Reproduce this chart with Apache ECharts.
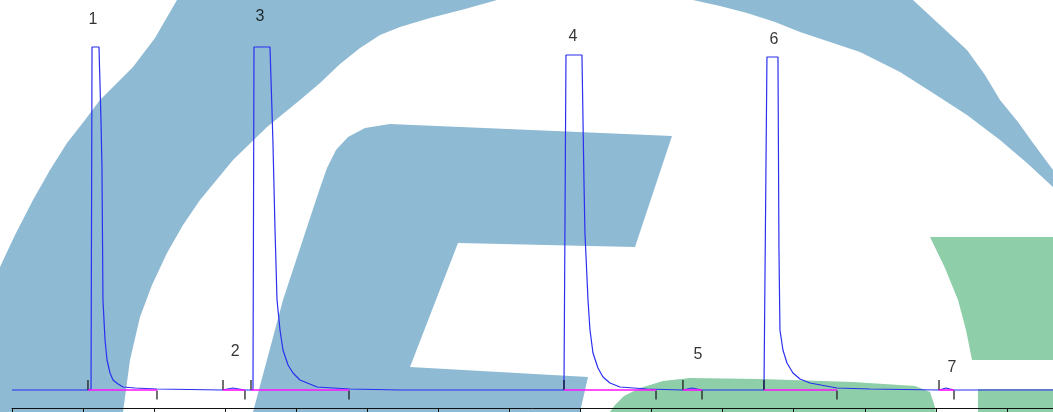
<!DOCTYPE html>
<html>
<head>
<meta charset="utf-8">
<script src="https://cdn.jsdelivr.net/npm/echarts@6/dist/echarts.min.js"></script>
<style>
html,body{margin:0;padding:0;background:#fff;}
#chart{width:1053px;height:412px;}
</style>
</head>
<body>
<div id="chart"></div>
<script>
// Retention time (min) and detector response of the chromatogram trace
var traceTime = [0, 1.069, 1.112, 1.126, 1.224, 1.252, 1.266, 1.280, 1.309, 1.337, 1.379, 1.421, 1.492, 1.562, 1.731, 2.040,
  2.955, 3.110, 3.278, 3.391, 3.405, 3.630, 3.658, 3.672, 3.701, 3.729, 3.771, 3.813, 3.884, 3.954, 4.052, 4.292, 4.756, 5.459,
  7.767, 7.795, 8.020, 8.048, 8.062, 8.105, 8.133, 8.175, 8.245, 8.316, 8.414, 8.555, 8.935,
  9.441, 9.568, 9.709,
  10.581, 10.623, 10.778, 10.792, 10.806, 10.848, 10.905, 10.989, 11.088, 11.228, 11.608, 12.073,
  13.044, 13.142, 13.255, 14.648];
var traceSignal = [0, 0, 1, 343, 343, 270, 223, 90, 50, 30, 17, 10, 6, 3, 2, 1,
  0, 2, 0, 0, 343, 343, 280, 247, 160, 90, 60, 40, 25, 17, 10, 3, 1, 0,
  0, 335, 335, 210, 157, 90, 60, 37, 22, 13, 7, 3, 1,
  0, 2, 0,
  0, 333, 333, 140, 60, 40, 27, 17, 11, 7, 2, 1,
  0, 2, 0, 0];

// Peak numbering labels
var peakNames = ['1', '2', '3', '4', '5', '6', '7'];
var labelTime = [1.140, 3.140, 3.490, 7.894, 9.653, 10.722, 13.226];
var labelSignal = [370, 38, 373, 353, 35, 350, 22];

// Integration start / end times
var peakStart = [1.069, 2.969, 3.363, 7.767, 9.441, 10.581, 13.044];
var peakEnd = [2.040, 3.278, 4.742, 9.062, 9.709, 11.608, 13.255];

// x-axis ticks
var tickInterval = 1;
var axisMin = 0;
var axisMax = 14.648;

var trace = traceTime.map(function (t, i) { return [t, traceSignal[i]]; });
var labels = labelTime.map(function (t, i) { return [t, labelSignal[i], peakNames[i]]; });
var starts = peakStart.map(function (t) { return [t, 0]; });
var ends = peakEnd.map(function (t) { return [t, 0]; });
var baselines = peakStart.map(function (t, i) {
  return [{ coord: [t, 0] }, { coord: [peakEnd[i], 0] }];
});

var BLUE = '#8ebad3';
var GREEN = '#8ecea9';

var chart = echarts.init(document.getElementById('chart'));
chart.setOption({
  animation: false,
  backgroundColor: '#ffffff',
  graphic: [
    { type: 'polygon', z: -10, silent: true,
      shape: { points: [[0,412],[0,267],[15,235],[33,200],[50,170],[67,143],[85,120],[100,100],[118,82],[133,67],[155,38],[177,0],[177,-2],[913,-2],[913,0],[940,25],[967,50],[985,75],[1000,100],[1018,122],[1033,143],[1053,170],[1053,187],[1027,163],[1000,140],[967,115],[933,93],[900,72],[860,52],[830,42],[800,32],[775,22],[747,13],[720,6],[693,0],[693,-2],[497,-2],[497,0],[465,9],[430,18],[400,27],[380,35],[360,48],[340,64],[320,83],[300,100],[267,127],[233,160],[200,200],[183,225],[167,253],[152,285],[140,317],[130,360],[123,412]] },
      style: { fill: BLUE } },
    { type: 'polygon', z: -10, silent: true,
      shape: { points: [[253,412],[283,300],[312,212],[320,188],[327,168],[336,150],[348,137],[365,128],[390,124],[672,136],[635,247],[458,243],[410,367],[588,377],[580,412]] },
      style: { fill: BLUE } },
    { type: 'polygon', z: -10, silent: true,
      shape: { points: [[610,412],[615,405],[624,396],[640,388],[663,381],[690,378],[760,379],[853,382],[915,386],[930,392],[934,404],[936,412]] },
      style: { fill: GREEN } },
    { type: 'polygon', z: -10, silent: true,
      shape: { points: [[930,237],[1053,237],[1053,360],[972,360],[966,330],[958,300],[945,268]] },
      style: { fill: GREEN } },
    { type: 'polygon', z: -10, silent: true,
      shape: { points: [[978,389],[1053,389],[1053,412],[978,412]] },
      style: { fill: GREEN } }
  ],
  grid: { left: 12, right: 0, top: 0, bottom: 4, containLabel: false },
  xAxis: {
    type: 'value', min: axisMin, max: axisMax, interval: tickInterval,
    axisLine: { show: true, onZero: false, lineStyle: { color: '#111', width: 1 } },
    axisTick: { show: true, inside: false, length: 6, lineStyle: { color: '#111' } },
    axisLabel: { show: false },
    splitLine: { show: false }
  },
  yAxis: { type: 'value', min: -18, max: 390, show: false, splitLine: { show: false } },
  series: [
    {
      name: 'signal', type: 'line', data: trace, symbol: 'none', z: 3,
      lineStyle: { color: '#2a2ff0', width: 1.2 },
      markLine: {
        silent: true, symbol: 'none', label: { show: false },
        lineStyle: { color: '#ff10ff', width: 1.6, type: 'solid' },
        data: baselines
      }
    },
    {
      name: 'start', type: 'scatter', data: starts, symbol: 'rect', symbolSize: [1.5, 10], symbolOffset: [0, -5], z: 4,
      itemStyle: { color: '#111' }
    },
    {
      name: 'end', type: 'scatter', data: ends, symbol: 'rect', symbolSize: [1.5, 9], symbolOffset: [0, 5], z: 4,
      itemStyle: { color: '#111' }
    },
    {
      name: 'labels', type: 'scatter', data: labels, symbolSize: 1, z: 5,
      itemStyle: { color: 'rgba(0,0,0,0)' },
      label: {
        show: true, position: 'inside',
        formatter: function (p) { return p.data[2]; },
        color: '#000', fontFamily: 'Liberation Sans, Arial, sans-serif', fontSize: 16
      }
    }
  ]
});
</script>
</body>
</html>
